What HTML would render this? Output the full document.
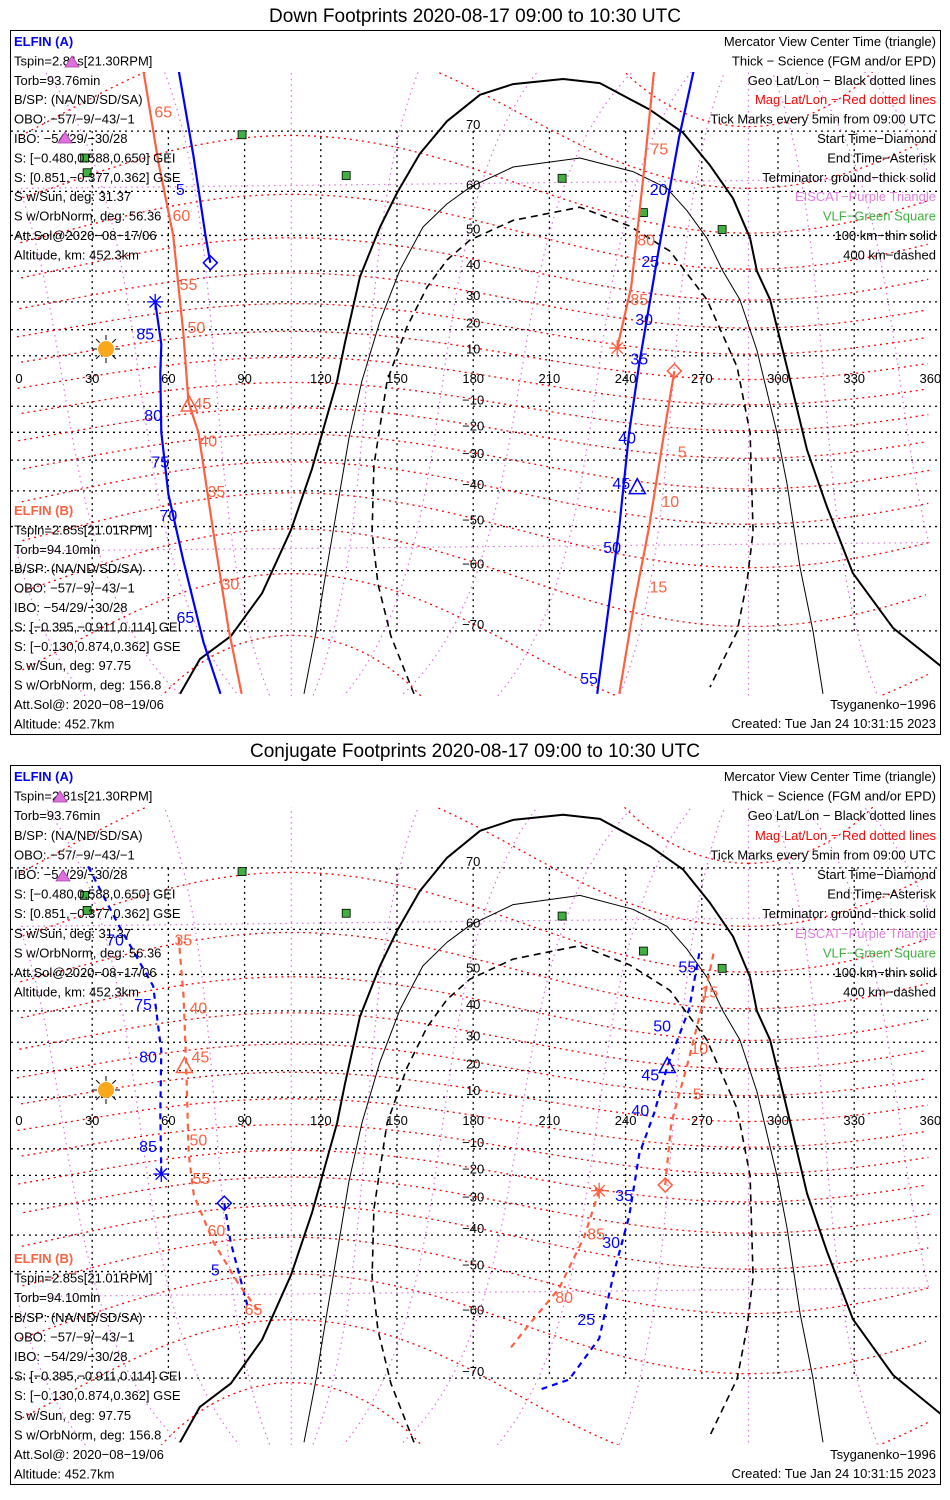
<!DOCTYPE html>
<html><head><meta charset="utf-8"><style>
html,body{margin:0;padding:0;background:#fff;overflow:hidden;width:950px;height:1500px}
svg{display:block}
text{font-family:"Liberation Sans",sans-serif}
</style></head><body>
<svg id="chart" width="950" height="1500" viewBox="0 0 950 1500" xmlns="http://www.w3.org/2000/svg"></svg>
<script>
// ---------- terminator (geo lon/lat), shared by both panels ----------
const termThickLon=[64.6,72.4,84.6,96.9,108.3,116.5,126.4,129.5,135.4,143.3,150,159,169.7,182.7,195.7,215.4,229.9,249.6,262.6,273.2,282.3,289,291.7,296.9,303.5,311.4,319.3,329.5,345.3,359.8,375];
const termThickLat=[-77,-73.5,-70.7,-64.2,-50.8,-33.1,0,15,38.2,52.1,59.7,66.7,71.3,74.4,75.5,76,75.6,72.7,69.8,64.8,58.6,49.3,40,30.8,5.6,-26.4,-44.7,-60.5,-69.6,-73.3,-76.5];
const termThinLon=[113.4,118.1,121.3,124.8,131.1,136.2,143.3,151.2,160.2,169.7,178.7,195.7,222,242.9,256.3,264.2,272,278.3,285,291.7,299.6,303.5,308.7,313.8,317.7];
const termThinLat=[-77,-70.2,-62.5,-51.4,-22.1,0,23.2,40.4,52.1,57.4,60.8,64.5,66,63.7,60.6,55.9,49.3,40,30.8,12.2,-20.2,-37.6,-59.4,-70.1,-77];
const termDashLon=[156.7,147.6,142.5,140.2,140.9,146.1,153.9,161.8,169.7,178.7,195.7,222,241.7,257.5,272,283.9,289,290.2,287.8,283.9,273.2];
const termDashLat=[-77,-70.7,-62.5,-51.4,-31.8,0,21,34.9,43.3,48.8,53.7,56.7,52.3,45.8,30.8,5.6,-20.2,-51.4,-62.1,-70.1,-76.4];
// ---------- Down footprints ----------
const dA1Lon=[76.5,74.6,69.8,63.9], dA1Lat=[42.5,50,66.5,77];
const dA2Lon=[267,261,253,245.4,241.4,237.5,233.5,228.8], dA2Lat=[77,69,46,7,-20,-50,-66,-77];
const dA3Lon=[80.5,73.8,65.9,60,57.2,56.8,57.2,54.8], dA3Lat=[-77,-71.5,-58,-41,-20,3,14.5,30];
const dB1Lon=[259.2,255.2,249.3,243.4,237.5], dB1Lat=[4,-20,-50,-66,-77];
const dB2Lon=[88.8,83.6,77.7,71.8,67.9,65.9,61.9,56,50], dB2Lat=[-77,-69.5,-51.5,-20,-8.5,18.5,50,65.5,77];
const dB3Lon=[251.3,247.3,242.2,236.7], dB3Lat=[77,64,35,13];
const dATickTxt=["5","20","25","30","35","40","45","50","55","65","70","75","80","85"];
const dATickLon=[64.7,253,249.7,247.3,245.4,240.6,238.3,234.7,225.6,66.7,60,56.8,54,50.9];
const dATickLat=[60.5,60.5,43,24,9,-22,-37.5,-55,-75.5,-68,-47,-30.5,-13.5,18.5];
const dBTickTxt=["5","10","15","30","35","40","45","50","55","60","65","75","80","85"];
const dBTickLon=[262.3,257.6,252.9,84.4,78.9,75.7,73.4,71,67.9,65.1,58,253.3,248.1,245.4];
const dBTickLat=[-27,-43,-63,-62.5,-40,-23,-8.8,21,36,55,72.5,67.5,49,31];
const dAMarks=[76.5,42.5,54.8,30,244.6,-39]; // diamond lon/lat, asterisk lon/lat, triangle lon/lat
const dBMarks=[259.2,4,236.7,13,68.2,-9.5];
// ---------- Conjugate footprints ----------
const cA1Lon=[82,84.5,91.5], cA1Lat=[-29.8,-42,-58.5];
const cA2Lon=[28.4,40.2,54,57.2,56.8,57.2], cA2Lat=[70.2,61,47,27,4,-19.5];
const cA3Lon=[269,265,256.4,251.3,245.4,241.4,235.5,229.6,217.7,206], cA3Lat=[55,40.5,21.5,4,-12,-34,-50,-64,-70.2,-71.5];
const cB1Lon=[64,66,67,68,70,77.7,87.6,96.3], cB1Lat=[58.5,44,21.5,-12,-27,-42,-53,-59.5];
const cB2Lon=[255.6,258,265,271,275], cB2Lat=[-23.5,0,24.5,44,56];
const cB3Lon=[229.6,223.7,213.8,202,194.9], cB3Lat=[-25.5,-40.5,-54,-61.5,-65.5];
const cATickTxt=["70","75","80","85","5","55","50","45","40","35","30","25"];
const cATickLon=[39,50,52,52,78.5,264.3,254.4,249.7,245.8,239.4,234.3,224.5];
const cATickLat=[58,42,25,-9,-49.5,52,35.5,18.5,5,-27,-42,-60.5];
const cBTickTxt=["35","40","45","50","55","60","65","5","10","15","85","80"];
const cBTickLon=[65.9,71.8,72.6,71.8,73,78.9,93.5,268.2,269,273,228.4,215.8];
const cBTickLat=[58,41,25,-6.5,-21,-38.5,-58.5,11.5,28,45.5,-39.5,-56];
const cAMarks=[82,-29.8,57.2,-19.5,256.4,21.5];
const cBMarks=[255.6,-23.5,229.6,-25.5,66.3,21.5];
// ---------- stations ----------
const vlfLon=[89,27,28,130,215,247,278];
const vlfLat=[69.5,66,63.5,63,62.5,55.5,51.5];
const latTicks=[70,60,50,40,30,20,10,-10,-20,-30,-40,-50,-60,-70];
const lonTicks=[0,30,60,90,120,150,180,210,240,270,300,330,360];

const NS="http://www.w3.org/2000/svg";
const svg=document.getElementById('chart');
function mk(tag,attrs,parent){const e=document.createElementNS(NS,tag);for(const k in attrs)e.setAttribute(k,attrs[k]);(parent||svg).appendChild(e);return e;}
const BLUE="#0000ff", ORANGE="#ff6040", PURPLE="#e070e0", GREEN="#40b040";

const panels=[
 {top:30,bot:735,y0:381,k:144,mTop:72,mBot:696,title:"Down Footprints 2020-08-17 09:00 to 10:30 UTC",titleY:22,conj:false},
 {top:765,bot:1485,y0:1123,k:147,mTop:807,mBot:1445,title:"Conjugate Footprints 2020-08-17 09:00 to 10:30 UTC",titleY:757,conj:true}
];
const X0=16, SX=2.54;
function gx(lon){return X0+lon*SX;}
function gyF(p){return lat=>p.y0-p.k*Math.log(Math.tan(Math.PI/4+lat*Math.PI/360));}

const PL=80.6*Math.PI/180, PLON=288.4*Math.PI/180, TH=Math.PI/2-PL;
function mag2geo(mlat,mlon){
 const a=mlat*Math.PI/180,b=mlon*Math.PI/180;
 let x=Math.cos(a)*Math.cos(b),y=Math.cos(a)*Math.sin(b),z=Math.sin(a);
 let x1=x*Math.cos(TH)+z*Math.sin(TH), z1=-x*Math.sin(TH)+z*Math.cos(TH), y1=y;
 let x2=x1*Math.cos(PLON)-y1*Math.sin(PLON), y2=x1*Math.sin(PLON)+y1*Math.cos(PLON);
 let lat=Math.asin(Math.max(-1,Math.min(1,z1)))*180/Math.PI, lon=Math.atan2(y2,x2)*180/Math.PI;
 if(lon<0)lon+=360; return [lon,lat];
}

panels.forEach((p,pi)=>{
 const gy=gyF(p);
 const g=mk('g',{});
 
 
 const t=mk('text',{x:475,y:p.titleY,'text-anchor':'middle','font-size':'19',fill:'#000'},g);
 t.textContent=p.title;
 
 
 const box=mk('rect',{x:10.5,y:p.top+0.5,width:930,height:p.bot-p.top-1,fill:'none',stroke:'#000','stroke-width':1},g);
 
 
 const cid='clip'+pi;
 const cp=mk('clipPath',{id:cid},g);
 mk('rect',{x:11,y:p.mTop,width:929,height:p.mBot-p.mTop},cp);
 const map=mk('g',{'clip-path':'url(#'+cid+')'},g);
 
 

 latTicks.forEach(l=>{
  const ln=mk('line',{x1:11,x2:940,y1:gy(l),y2:gy(l),stroke:'#000','stroke-dasharray':'2,4','stroke-width':1.3},map);
  
  
 });
 lonTicks.slice(1,12).forEach(l=>{
  const ln=mk('line',{x1:gx(l),x2:gx(l),y1:gy(70),y2:gy(-70),stroke:'#000','stroke-dasharray':'2,4','stroke-width':1.3},map);
  
  
 });
 for(let ml=0;ml<360;ml+=30){
  let d="";
  for(let mlat=-88;mlat<=88;mlat+=2){const [lo,la]=mag2geo(mlat,ml);d+=(d?"L":"M")+gx(lo).toFixed(1)+","+gy(la).toFixed(1);}
  const pth=mk('path',{d:d,fill:'none',stroke:PURPLE,'stroke-dasharray':'1.5,4','stroke-width':1.2},map);
  
  
 }
 for(let mlat=-80;mlat<=80;mlat+=10){
  let d="",prev=null;
  for(let ml=0;ml<=360;ml+=3){const [lo,la]=mag2geo(mlat,ml);
   if(prev!==null&&Math.abs(lo-prev)>180)d+="M"; else d+=(d?"L":"M");
   d+=gx(lo).toFixed(1)+","+gy(la).toFixed(1);prev=lo;}
  const pth=mk('path',{d:d,fill:'none',stroke:'#ff0000','stroke-dasharray':'2,4','stroke-width':1.3},map);
  
  
 }
 function poly(lons,lats,attrs,name){
  let d="";lons.forEach((lo,i)=>{d+=(i?"L":"M")+gx(lo).toFixed(1)+","+gy(lats[i]).toFixed(1);});
  const e=mk('path',Object.assign({d:d,fill:'none','stroke-linejoin':'round'},attrs),map);
  
  
  return e;
 }
 poly(termThickLon,termThickLat,{stroke:'#000','stroke-width':2},'terminator-ground');
 poly(termThinLon,termThinLat,{stroke:'#000','stroke-width':1},'terminator-100km');
 poly(termDashLon,termDashLat,{stroke:'#000','stroke-width':1.6,'stroke-dasharray':'7,5'},'terminator-400km');

 lonTicks.forEach(l=>{
  const tx=mk('text',{x:gx(l)+(l===0?3:0),y:gy(0)+2,'text-anchor':'middle','font-size':'13',fill:'#000'},map);
  tx.textContent=String(l);
  
  
 });
 latTicks.forEach(l=>{
  const tx=mk('text',{x:gx(180),y:gy(l)-2,'text-anchor':'middle','font-size':'13',fill:'#000'},map);
  tx.textContent=(l<0?"\u2212":"")+Math.abs(l);
  
  
 });

 vlfLon.forEach((lo,i)=>{
  const r=mk('rect',{x:gx(lo)-4,y:gy(vlfLat[i])-4,width:8,height:8,fill:GREEN,stroke:'#000','stroke-width':0.8},map);
  
  
 });

 const sx=106, sy=p.conj?1090:349;
 const sun=mk('g',{},g);
 
 
 for(let a=0;a<360;a+=45){const r=a*Math.PI/180;mk('line',{x1:sx+9*Math.cos(r),y1:sy+9*Math.sin(r),x2:sx+14*Math.cos(r),y2:sy+14*Math.sin(r),stroke:'#000','stroke-width':1},sun);}
 mk('circle',{cx:sx,cy:sy,r:8,fill:'#f8a818'},sun);

 const dash=p.conj?{'stroke-dasharray':'6,5'}:{};
 const segs=p.conj?
  [[cA1Lon,cA1Lat,BLUE,'elfin-a-track'],[cA2Lon,cA2Lat,BLUE,'elfin-a-track'],[cA3Lon,cA3Lat,BLUE,'elfin-a-track'],[cB1Lon,cB1Lat,ORANGE,'elfin-b-track'],[cB2Lon,cB2Lat,ORANGE,'elfin-b-track'],[cB3Lon,cB3Lat,ORANGE,'elfin-b-track']]:
  [[dA1Lon,dA1Lat,BLUE,'elfin-a-track'],[dA2Lon,dA2Lat,BLUE,'elfin-a-track'],[dA3Lon,dA3Lat,BLUE,'elfin-a-track'],[dB1Lon,dB1Lat,ORANGE,'elfin-b-track'],[dB2Lon,dB2Lat,ORANGE,'elfin-b-track'],[dB3Lon,dB3Lat,ORANGE,'elfin-b-track']];
 segs.forEach(s=>poly(s[0],s[1],Object.assign({stroke:s[2],'stroke-width':2.2},dash),s[3]));
 const ticks=p.conj?
  [[cATickTxt,cATickLon,cATickLat,BLUE],[cBTickTxt,cBTickLon,cBTickLat,ORANGE]]:
  [[dATickTxt,dATickLon,dATickLat,BLUE],[dBTickTxt,dBTickLon,dBTickLat,ORANGE]];
 ticks.forEach(tk=>tk[0].forEach((s,i)=>{
  const tx=mk('text',{x:gx(tk[1][i]),y:gy(tk[2][i])+6,'text-anchor':'middle','font-size':'16',fill:tk[3]},map);
  tx.textContent=s;
  
  
 }));
 const marks=p.conj?[[cAMarks,BLUE],[cBMarks,ORANGE]]:[[dAMarks,BLUE],[dBMarks,ORANGE]];
 marks.forEach(m=>{
  const v=m[0],c=m[1];
  let x=gx(v[0]),y=gy(v[1]);
  const dm=mk('path',{d:`M${x},${y-7}L${x+7},${y}L${x},${y+7}L${x-7},${y}Z`,fill:'none',stroke:c,'stroke-width':1.5},map);
  
  
  x=gx(v[2]);y=gy(v[3]);
  let d="";for(let a=0;a<180;a+=45){const r=a*Math.PI/180;d+=`M${x-8*Math.cos(r)},${y-8*Math.sin(r)}L${x+8*Math.cos(r)},${y+8*Math.sin(r)}`;}
  const as=mk('path',{d:d,stroke:c,'stroke-width':1.3},map);
  
  
  x=gx(v[4]);y=gy(v[5]);
  const tr=mk('path',{d:`M${x},${y-9}L${x+8},${y+6}L${x-8},${y+6}Z`,fill:'none',stroke:c,'stroke-width':1.5},map);
  
  
 });

 const leftA=["Tspin=2.81s[21.30RPM]","Torb=93.76min","B/SP: (NA/ND/SD/SA)","OBO: \u221257/\u22129/\u221243/\u22121","IBO: \u221254/29/\u221230/28","S: [\u22120.480,0.588,0.650] GEI","S: [0.851,\u22120.377,0.362] GSE","S w/Sun, deg: 31.37","S w/OrbNorm, deg: 56.36","Att.Sol@2020\u221208\u221217/06","Altitude, km: 452.3km"];
 const leftB=["Tspin=2.85s[21.01RPM]","Torb=94.10min","B/SP: (NA/ND/SD/SA)","OBO: \u221257/\u22129/\u221243/\u22121","IBO: \u221254/29/\u221230/28","S: [\u22120.395,\u22120.911,0.114] GEI","S: [\u22120.130,0.874,0.362] GSE","S w/Sun, deg: 97.75","S w/OrbNorm, deg: 156.8","Att.Sol@: 2020\u221208\u221219/06","Altitude: 452.7km"];
 const right=[["Mercator View Center Time (triangle)","#000"],["Thick \u2212 Science (FGM and/or EPD)","#000"],["Geo Lat/Lon \u2212 Black dotted lines","#000"],["Mag Lat/Lon \u2212 Red dotted lines","#ff0000"],["Tick Marks every 5min from 09:00 UTC","#000"],["Start Time\u2212Diamond","#000"],["End Time\u2212Asterisk","#000"],["Terminator: ground\u2212thick solid","#000"],["EISCAT\u2212Purple Triangle","#e080e0"],["VLF\u2212Green Square","#40b040"],["100 km\u2212thin solid","#000"],["400 km\u2212dashed","#000"]];
 const lh=p.conj?19.6:19.4;
 function txt(s,x,y,anchor,col,name,bold){
  const e=mk('text',{x:x,y:y,'text-anchor':anchor,'font-size':'13',fill:col},g);
  if(bold)e.setAttribute('font-weight','bold');
  e.textContent=s;
  
  
 }
 const ty=p.top+16;
 txt("ELFIN (A)",14,ty,'start',BLUE,'elfin-a-heading',true);
 leftA.forEach((s,i)=>txt(s,14,ty+(i+1)*lh,'start','#000','elfin-a-info'));
 const tb=p.conj?p.top+498:p.top+485;
 txt("ELFIN (B)",14,tb,'start',ORANGE,'elfin-b-heading',true);
 leftB.forEach((s,i)=>txt(s,14,tb+(i+1)*lh,'start','#000','elfin-b-info'));
 right.forEach((r,i)=>txt(r[0],936,ty+i*lh,'end',r[1],'legend-entry'));
 txt("Tsyganenko\u22121996",936,p.bot-26,'end','#000','model-note');
 txt("Created: Tue Jan 24 10:31:15 2023",936,p.bot-7,'end','#000','created-timestamp');
 const eis=p.conj?[[60,p.top+32],[63,p.top+111]]:[[72,p.top+32],[65,p.top+108]];
 eis.forEach(e=>{
  const tr=mk('path',{d:`M${e[0]},${e[1]-6}L${e[0]+7},${e[1]+5}L${e[0]-7},${e[1]+5}Z`,fill:'#e070e0',stroke:'#a040a0','stroke-width':0.8},g);
  
  
 });
});
</script>
</body></html>
